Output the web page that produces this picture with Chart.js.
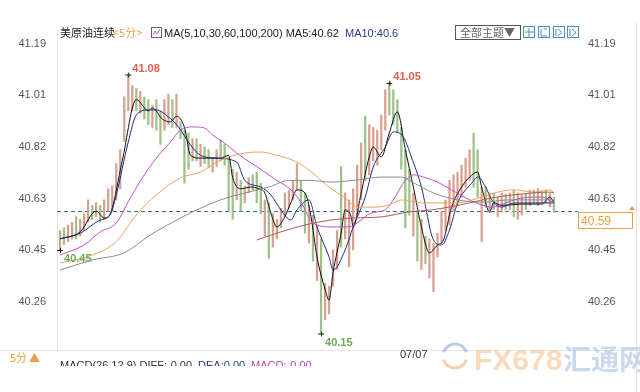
<!DOCTYPE html>
<html>
<head>
<meta charset="utf-8">
<script src="https://cdn.jsdelivr.net/npm/chart.js@4.4.1/dist/chart.umd.min.js"></script>
<style>
  html, body { margin: 0; padding: 0; background: #fff; }
  canvas { display: block; }
</style>
</head>
<body>
<canvas id="chart" width="640" height="392"></canvas>
<script>
// axis ticks (left and right share them)
const tickVals = [40.265, 40.45, 40.635, 40.82, 41.005, 41.19];
const tickLabels = ["40.26", "40.45", "40.63", "40.82", "41.01", "41.19"];
const yMin = 40.091, yMax = 41.24;
const lastPrice = 40.59;

// 5-minute bars: high / low / up(1)=red, down(0)=green
const hi = [40.52,40.53,40.54,40.55,40.57,40.56,40.58,40.63,40.61,40.62,
  40.61,40.63,40.67,40.68,40.76,40.81,41.00,41.08,41.04,41.03,
  41.02,41.00,40.99,40.97,40.99,40.95,40.99,41.01,40.99,41.01,
  40.91,40.88,40.87,40.85,40.85,40.83,40.82,40.81,40.78,40.81,
  40.845,40.83,40.78,40.74,40.73,40.70,40.68,40.71,40.72,40.73,
  40.69,40.63,40.62,40.58,40.56,40.60,40.655,40.665,40.70,40.76,
  40.70,40.655,40.61,40.575,40.54,40.49,40.33,40.32,40.45,40.52,
  40.75,40.655,40.63,40.67,40.755,40.835,40.93,40.90,40.89,40.88,
  40.935,41.025,41.05,41.025,40.99,40.89,40.81,40.74,40.655,40.59,
  40.56,40.50,40.49,40.475,40.51,40.59,40.63,40.70,40.72,40.73,
  40.755,40.78,40.81,40.87,40.81,40.675,40.675,40.655,40.655,40.64,
  40.655,40.65,40.655,40.665,40.655,40.65,40.65,40.665,40.665,40.67,
  40.66,40.665,40.655,40.64];
const lo = [40.45,40.47,40.48,40.49,40.49,40.50,40.52,40.55,40.56,40.57,
  40.55,40.56,40.59,40.59,40.63,40.67,40.84,40.95,40.95,40.95,
  40.94,40.92,40.90,40.89,40.88,40.83,40.88,40.90,40.89,40.89,
  40.85,40.69,40.74,40.77,40.77,40.75,40.76,40.745,40.73,40.75,
  40.77,40.755,40.59,40.56,40.63,40.59,40.62,40.655,40.665,40.62,
  40.58,40.50,40.42,40.46,40.49,40.53,40.57,40.60,40.63,40.665,
  40.59,40.51,40.475,40.41,40.34,40.15,40.20,40.22,40.32,40.38,
  40.46,40.49,40.39,40.45,40.575,40.63,40.70,40.72,40.77,40.755,
  40.81,40.88,40.935,40.90,40.87,40.74,40.53,40.575,40.50,40.41,
  40.38,40.40,40.35,40.30,40.425,40.475,40.52,40.54,40.59,40.61,
  40.64,40.675,40.70,40.675,40.64,40.48,40.605,40.585,40.595,40.57,
  40.585,40.595,40.595,40.57,40.56,40.575,40.595,40.61,40.62,40.61,
  40.62,40.62,40.605,40.585];
const up = [1,0,1,1,0,1,1, 1,0,1,0,1,1,1,1,1,1, 1,1,0,1,0,0,1,0,0,1,1,0,1,
  0,0,0,1,0,1,0,0,1,1,0,0, 0,0,1,0,1,1,0,0,0, 1,0,1,1,1,1,1,1,1,0,
  0,1,0,1,0,1,1, 1,1,0,1,1,1,1,1,0,1,1,1,1,1,0,0,0, 0,0,0,1,0,1,0,1,1,1,
  1,1,1,1,1,1,1,1,0,0,1, 0,1,0,1,1,0,1,0,1,1,0,1,0,1,1,0,1,0];

// moving averages as [bar index, value]
const ma5 = [[0,40.49],[5,40.515],[9,40.59],[11,40.565],[12.5,40.58],[15.5,40.77],[19,40.99],
  [22,40.95],[23,40.96],[25.5,40.92],[27.5,40.91],[29,40.93],[31,40.89],[32.5,40.79],[35,40.78],
  [40,40.78],[42,40.79],[43,40.71],[45,40.67],[47.5,40.676],[49.5,40.67],[51,40.655],[52.5,40.583],
  [54,40.533],[56,40.57],[57.5,40.62],[59,40.666],[61,40.655],[62.5,40.57],[64,40.425],[66,40.31],
  [67,40.27],[68,40.37],[70,40.51],[71,40.594],[72.5,40.57],[73,40.533],[75,40.655],[77,40.784],
  [78,40.82],[80,40.784],[82,40.87],[84,40.946],[86,40.81],[88,40.676],[90,40.533],[92,40.44],
  [94,40.468],[95.5,40.486],[97.5,40.604],[100,40.676],[102,40.712],[104,40.73],[105,40.676],
  [107,40.587],[108,40.62],[110,40.61],[115,40.615],[120,40.615],[122,40.64],[123,40.62]];
const ma10 = [[0,40.49],[5,40.51],[10,40.558],[12.5,40.576],[14,40.648],[17,40.838],[19,40.935],
  [22,40.953],[24,40.953],[27,40.928],[29.5,40.892],[32.5,40.827],[35,40.79],[39,40.78],[44,40.766],
  [46,40.70],[50,40.676],[52.5,40.648],[55,40.594],[57.5,40.558],[59,40.594],[62,40.63],[64,40.533],
  [67,40.425],[68,40.378],[71,40.45],[73,40.533],[76,40.64],[78,40.748],[81,40.82],[83,40.874],
  [85.5,40.856],[87.5,40.784],[90,40.676],[93,40.486],[95,40.468],[97,40.522],[99,40.619],
  [102.5,40.69],[104,40.712],[106,40.676],[107.5,40.63],[110,40.604],[113,40.619],[122,40.619],[123,40.619]];
const ma30 = [[0,40.432],[6,40.468],[10,40.515],[14,40.547],[17.5,40.637],[21,40.72],[24,40.78],
  [27.5,40.838],[30,40.881],[33,40.892],[36,40.888],[38,40.863],[41,40.834],[44,40.798],[47.5,40.763],
  [51,40.73],[54,40.70],[57.5,40.666],[60,40.622],[63,40.547],[67.5,40.533],[72,40.533],[74,40.547],
  [77.5,40.583],[81,40.594],[83,40.63],[86,40.70],[88,40.72],[91,40.71],[94,40.694],[97.5,40.666],
  [102,40.63],[105,40.612],[107.5,40.604],[111,40.619],[115,40.637],[120,40.64],[123,40.619]];
const ma60 = [[0,40.403],[8,40.432],[14,40.48],[19,40.576],[24,40.648],[30,40.709],[35,40.73],
  [40,40.773],[46,40.798],[50,40.802],[54,40.79],[59,40.766],[62,40.737],[67,40.676],[71,40.637],
  [74,40.604],[78,40.604],[82,40.612],[85,40.63],[90,40.619],[92.5,40.619],[99,40.619],[105,40.64],
  [109,40.658],[113,40.666],[118,40.658],[122,40.666],[123,40.655]];
const ma100 = [[0,40.378],[8,40.414],[16,40.44],[22.5,40.504],[30,40.565],[33,40.587],[40,40.63],
  [46,40.655],[52,40.676],[57,40.70],[62,40.70],[67.5,40.694],[73,40.70],[80,40.712],[85,40.712],
  [88,40.691],[93,40.655],[99,40.63],[105,40.622],[112,40.63],[122,40.63],[123,40.63]];
const ma200 = [[49,40.486],[55,40.515],[61,40.54],[67.5,40.558],[73,40.565],[80,40.569],[87,40.587],
  [92.5,40.594],[102,40.619],[107.5,40.637],[113,40.648],[122,40.658],[123,40.655]];

(function(){
  const canvas = document.getElementById("chart");
  const RED = "#d9a090", GREEN = "#9cc288";
  const NUM_FONT = '"Liberation Sans", Arial, "Noto Sans CJK SC", sans-serif';

  const lineDs = (pts, color) => ({
    type: "line",
    data: pts.map(p => ({ x: p[0], y: p[1] })),
    borderColor: color,
    borderWidth: 1,
    pointRadius: 0,
    fill: false,
    cubicInterpolationMode: "monotone",
    order: 1
  });

  function setTicks(scale){
    scale.ticks = tickVals.map(v => ({ value: v }));
  }

  // draws a +-marker with the extreme value next to it
  function extreme(ctx, x, y, i, v, color, below){
    const px = x.getPixelForValue(i), py = y.getPixelForValue(v);
    ctx.strokeStyle = "#222"; ctx.lineWidth = 1;
    ctx.beginPath();
    ctx.moveTo(px - 3, py + 0.5); ctx.lineTo(px + 3, py + 0.5);
    ctx.moveTo(px + 0.5, py - 2); ctx.lineTo(px + 0.5, py + 3);
    ctx.stroke();
    ctx.fillStyle = color;
    ctx.font = "bold 11px " + NUM_FONT;
    ctx.textAlign = "left";
    ctx.fillText(v.toFixed(2), px + 4, below ? py + 12 : py - 3);
  }

  const overlay = {
    id: "overlay",
    beforeDatasetsDraw(chart){
      const { ctx, chartArea: a, scales: { y } } = chart;
      const py = Math.round(y.getPixelForValue(lastPrice)) + 0.5;
      ctx.save();
      ctx.strokeStyle = "#3c6c9c"; ctx.lineWidth = 1; ctx.setLineDash([4, 3]);
      ctx.beginPath(); ctx.moveTo(a.left, py); ctx.lineTo(578, py); ctx.stroke();
      ctx.restore();
    },
    afterDraw(chart){
      const { ctx, chartArea: a, scales: { x, y } } = chart;
      ctx.save();
      // frame lines
      ctx.strokeStyle = "#e6e6e6"; ctx.lineWidth = 1;
      ctx.beginPath();
      ctx.moveTo(636.5, 22); ctx.lineTo(636.5, 392);
      ctx.moveTo(0, a.bottom + 0.5); ctx.lineTo(640, a.bottom + 0.5);
      ctx.stroke();

      // header
      ctx.textBaseline = "alphabetic"; ctx.textAlign = "left";
      ctx.font = '11px "Noto Sans CJK SC", sans-serif';
      ctx.fillStyle = "#222"; ctx.fillText("美原油连续", 60, 37);
      ctx.fillStyle = "#f0a050"; ctx.fillText("<5分>", 113, 37);
      ctx.strokeStyle = "#6a5a9a"; ctx.strokeRect(151.5, 27.5, 10, 10);
      ctx.strokeStyle = "#c060c0";
      ctx.beginPath(); ctx.moveTo(153, 35); ctx.lineTo(155, 31); ctx.lineTo(157, 34); ctx.lineTo(160, 29); ctx.stroke();
      ctx.font = "11px " + NUM_FONT;
      ctx.fillStyle = "#222"; ctx.fillText("MA(5,10,30,60,100,200) MA5:40.62", 164, 37);
      ctx.fillStyle = "#2a3a8a"; ctx.fillText("MA10:40.6", 345, 37);

      // top-right controls
      ctx.strokeStyle = "#555"; ctx.strokeRect(455.5, 25.5, 65, 14);
      ctx.fillStyle = "#666"; ctx.font = '11px "Noto Sans CJK SC", sans-serif';
      ctx.fillText("全部主题▼", 460, 37);
      ctx.strokeStyle = "#4a8cc8";
      [523, 538, 553, 567].forEach((bx, k) => {
        ctx.strokeRect(bx + 0.5, 26.5, 11, 11);
        ctx.beginPath();
        if (k === 0){ ctx.moveTo(bx + 6, 28); ctx.lineTo(bx + 6, 37); ctx.moveTo(bx + 2, 32); ctx.lineTo(bx + 11, 32); }
        else if (k === 1){ ctx.moveTo(bx + 3, 29); ctx.lineTo(bx + 3, 36); ctx.lineTo(bx + 9, 36); ctx.moveTo(bx + 6, 29); ctx.lineTo(bx + 9, 29); }
        else { ctx.moveTo(bx + 3, 29); ctx.lineTo(bx + 3, 36); ctx.moveTo(bx + 5, 29); ctx.lineTo(bx + 9, 32.5); ctx.lineTo(bx + 5, 36); }
        ctx.stroke();
      });

      // extremes
      extreme(ctx, x, y, 17, hi[17], "#e0604a", false);
      extreme(ctx, x, y, 82, hi[82], "#e0604a", false);
      extreme(ctx, x, y, 65, lo[65], "#6fa858", true);
      extreme(ctx, x, y, 0, lo[0], "#6fa858", true);

      // last price tag
      const py = Math.round(y.getPixelForValue(lastPrice));
      ctx.fillStyle = "#fff"; ctx.fillRect(578, py + 1, 54, 16);
      ctx.strokeStyle = "#e8a040"; ctx.strokeRect(578.5, py + 1.5, 54, 16);
      ctx.fillStyle = "#e8a040"; ctx.font = "12px " + NUM_FONT;
      ctx.fillText(lastPrice.toFixed(2), 581, py + 14);
      ctx.beginPath(); ctx.moveTo(629, py - 1); ctx.lineTo(632, py - 5); ctx.lineTo(635, py - 1); ctx.closePath(); ctx.fill();

      // date label
      ctx.fillStyle = "#333"; ctx.font = "11px " + NUM_FONT;
      ctx.fillText("07/07", 400, 358);

      // bottom strip
      ctx.fillStyle = "#f0a040"; ctx.font = '11px "Noto Sans CJK SC", sans-serif';
      ctx.fillText("5分", 10, 362);
      ctx.fillText("▲", 29, 362);
      ctx.save();
      ctx.beginPath(); ctx.rect(40, 352, 300, 14); ctx.clip();
      ctx.font = "11px " + NUM_FONT;
      let tx = 60;
      [["MACD(26,12.9) DIFF:-0.00", "#333"], ["DEA:0.00", "#2a3a8a"], ["MACD:-0.00", "#c040c0"]].forEach(([t, c]) => {
        ctx.fillStyle = c; ctx.fillText(t, tx, 369); tx += ctx.measureText(t).width + 6;
      });
      ctx.restore();

      // watermark
      ctx.globalAlpha = 0.6;
      ctx.lineWidth = 3;
      ctx.strokeStyle = "#8aa8d8";
      ctx.beginPath(); ctx.arc(455, 356, 12, Math.PI * 1.1, Math.PI * 1.9); ctx.stroke();
      ctx.strokeStyle = "#f0b080";
      ctx.beginPath(); ctx.arc(455, 356, 12, Math.PI * 0.1, Math.PI * 0.9); ctx.stroke();
      ctx.fillStyle = "#f6c090"; ctx.font = 'bold 30px "Liberation Sans", Arial, sans-serif';
      ctx.fillText("FX678", 474, 370);
      ctx.fillStyle = "#a9bfe4"; ctx.font = 'bold 28px "Noto Sans CJK SC", sans-serif';
      ctx.fillText("汇通网", 563, 370);
      ctx.restore();
    }
  };

  new Chart(canvas.getContext("2d"), {
    type: "bar",
    data: {
      datasets: [
        lineDs(ma200, "#b45a50"),
        lineDs(ma100, "#8c8c8c"),
        lineDs(ma60, "#e8a55a"),
        lineDs(ma30, "#c24fc8"),
        lineDs(ma10, "#1e2c84"),
        lineDs(ma5, "#111111"),
        {
          type: "bar",
          data: hi.map((h, i) => ({ x: i, y: [lo[i], h] })),
          backgroundColor: up.map(u => u ? RED : GREEN),
          barThickness: 1.6,
          order: 10
        }
      ]
    },
    options: {
      responsive: false,
      animation: false,
      layout: { padding: { top: 30, bottom: 42, left: 0, right: 0 } },
      plugins: { legend: { display: false }, tooltip: { enabled: false } },
      scales: {
        x: { type: "linear", display: false, min: -0.75, max: 127.5, offset: false },
        y: {
          position: "left", min: yMin, max: yMax,
          afterBuildTicks: setTicks,
          afterFit: s => { s.width = 57; },
          grid: { display: false },
          border: { display: true, color: "#e6e6e6" },
          ticks: { padding: 3, color: "#555", font: { family: NUM_FONT, size: 11 },
            callback: (v, i) => tickLabels[i] }
        },
        y2: {
          position: "right", min: yMin, max: yMax,
          afterBuildTicks: setTicks,
          afterFit: s => { s.width = 68; },
          grid: { display: false },
          border: { display: false },
          ticks: { padding: 8, color: "#555", font: { family: NUM_FONT, size: 11 },
            callback: (v, i) => tickLabels[i] }
        }
      }
    },
    plugins: [overlay]
  });
})();
</script>
</body>
</html>
